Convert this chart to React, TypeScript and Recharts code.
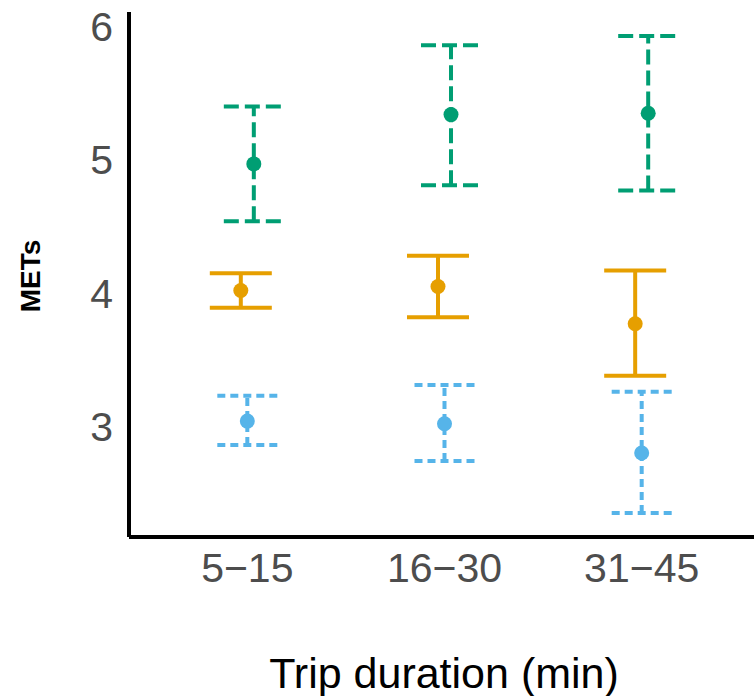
import { ComposedChart, Scatter, ErrorBar, XAxis, YAxis } from "recharts";

const durations = ["5−15", "16−30", "31−45"];

const blueMean = [3.04, 3.02, 2.8];
const blueLow = [2.86, 2.74, 2.35];
const blueHigh = [3.23, 3.31, 3.26];

const orangeMean = [4.02, 4.05, 3.77];
const orangeLow = [3.89, 3.82, 3.38];
const orangeHigh = [4.15, 4.28, 4.17];

const greenMean = [4.97, 5.34, 5.35];
const greenLow = [4.54, 4.81, 4.77];
const greenHigh = [5.4, 5.86, 5.93];

const yTicks = [3, 4, 5, 6];

// position_dodge style offsets, in category units
function buildSeries(mean: number[], low: number[], high: number[], shift: number) {
  return mean.map((m, i) => ({
    x: i + 1 + shift,
    y: m,
    err: [m - low[i], high[i] - m],
  }));
}

const blueData = buildSeries(blueMean, blueLow, blueHigh, 0);
const orangeData = buildSeries(orangeMean, orangeLow, orangeHigh, -0.033);
const greenData = buildSeries(greenMean, greenLow, greenHigh, 0.033);

const dot = (color: string) => (props: any) => (
  <circle cx={props.cx} cy={props.cy} r={7.5} fill={color} />
);

const font = "Arial, 'Liberation Sans', sans-serif";
const tickFont = { fontFamily: font, fontSize: 41, fill: "#4D4D4D" };

export default function App() {
  return (
    <div style={{ position: "absolute", left: 0, top: 0, width: 754, height: 696, overflow: "hidden", background: "#fff" }}>
      <ComposedChart
        width={760}
        height={696}
        margin={{ top: 12, right: 0, left: 0, bottom: 0 }}
      >
        <XAxis
          type="number"
          dataKey="x"
          domain={[0.4, 3.6]}
          ticks={[1, 2, 3]}
          allowDataOverflow
          tickFormatter={(v: number) => durations[Math.round(v) - 1]}
          tickLine={false}
          tickSize={0}
          tickMargin={16}
          axisLine={{ stroke: "#000", strokeWidth: 4 }}
          tick={tickFont}
          height={159}
          label={() => (
            <text
              x={444}
              y={688}
              textAnchor="middle"
              fontSize={43}
              style={{ fontFamily: font, fontSize: 43, fill: "#000" }}
            >
              Trip duration (min)
            </text>
          )}
        />
        <YAxis
          type="number"
          dataKey="y"
          domain={[2.17, 6.11]}
          ticks={yTicks}
          allowDataOverflow
          tickLine={false}
          tickSize={0}
          tickMargin={16}
          axisLine={{ stroke: "#000", strokeWidth: 4 }}
          tick={tickFont}
          width={129}
          label={() => (
            <text
              x={0}
              y={0}
              transform="translate(40, 276) rotate(-90)"
              textAnchor="middle"
              fontSize={28}
              style={{ fontFamily: font, fontSize: 28, fontWeight: 700, fill: "#000" }}
            >
              METs
            </text>
          )}
        />
        <Scatter data={orangeData} shape={dot("#E69F00")} isAnimationActive={false}>
          <ErrorBar dataKey="err" direction="y" width={31} stroke="#E69F00" strokeWidth={4} isAnimationActive={false} />
        </Scatter>
        <Scatter data={blueData} shape={dot("#56B4E9")} isAnimationActive={false}>
          <ErrorBar dataKey="err" direction="y" width={30} stroke="#56B4E9" strokeWidth={4} strokeDasharray="8 5" isAnimationActive={false} />
        </Scatter>
        <Scatter data={greenData} shape={dot("#009E73")} isAnimationActive={false}>
          <ErrorBar dataKey="err" direction="y" width={30} stroke="#009E73" strokeWidth={4} strokeDasharray="15 6" isAnimationActive={false} />
        </Scatter>
      </ComposedChart>
    </div>
  );
}
